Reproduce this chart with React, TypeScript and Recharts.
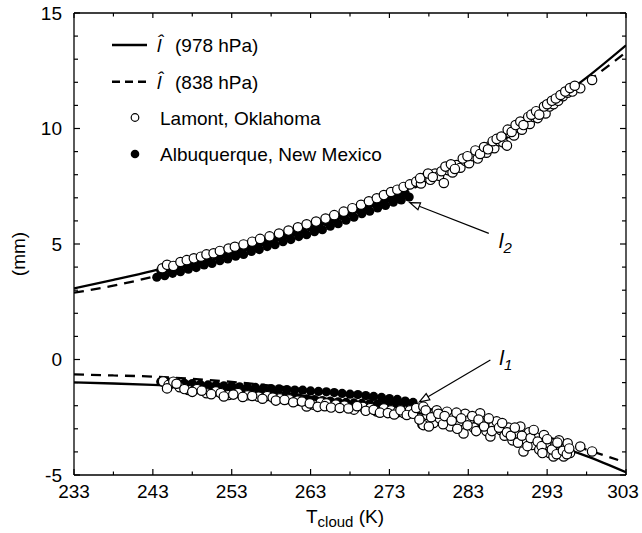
import { ComposedChart, Line, Scatter, XAxis, YAxis, ReferenceLine } from "recharts"

const FONT = '"Liberation Sans", Arial, Helvetica, sans-serif'
const INK = "#000"
const W = 642
const H = 533

// axis ticks (minor ones are unlabeled)
const X_TICKS = [233, 238, 243, 248, 253, 258, 263, 268, 273, 278, 283, 288, 293, 298, 303]
const X_LABELED = [233, 243, 253, 263, 273, 283, 293, 303]
const Y_TICKS = [-5, -4, -3, -2, -1, 0, 1, 2, 3, 4, 5, 6, 7, 8, 9, 10, 11, 12, 13, 14, 15]
const Y_LABELED = [-5, 0, 5, 10, 15]

// model curves l-hat, read every 5 K
const CURVE_T = [233, 238, 243, 248, 253, 258, 263, 268, 273, 278, 283, 288, 293, 298, 303]
const I2_978 = [3.08, 3.45, 3.84, 4.28, 4.75, 5.25, 5.8, 6.4, 7.05, 7.8, 8.7, 9.75, 10.95, 12.2, 13.6]
const I2_838 = [2.89, 3.2, 3.58, 4.05, 4.55, 5.1, 5.68, 6.3, 6.97, 7.72, 8.6, 9.62, 10.8, 12.0, 13.3]
const I1_978 = [-0.99, -1.04, -1.1, -1.18, -1.3, -1.44, -1.62, -1.84, -2.1, -2.4, -2.76, -3.16, -3.62, -4.18, -4.88]
const I1_838_T = [233, 238, 243, 248, 253, 258, 263, 268, 273, 278, 283, 288, 293, 298, 302]
const I1_838 = [-0.64, -0.69, -0.74, -0.84, -0.97, -1.13, -1.33, -1.56, -1.83, -2.14, -2.5, -2.9, -3.35, -3.9, -4.35]

// Albuquerque, New Mexico (filled)
const ALBQ_I2: [number, number][] = [
  [244, 3.85], [245, 3.94], [246, 4.05], [247, 4.12], [248, 4.2], [249, 4.31], [250, 4.39], [251, 4.5],
  [252, 4.58], [253, 4.69], [254, 4.77], [255, 4.9], [256, 4.98], [257, 5.1], [258, 5.18], [259, 5.31],
  [260, 5.4], [261, 5.53], [262, 5.62], [263, 5.74], [264, 5.83], [265, 5.96], [266, 6.07], [267, 6.22],
  [268, 6.36], [269, 6.5], [270, 6.61], [271, 6.76], [272, 6.86], [273, 6.99], [274, 7.09], [275, 7.2],
  [243.5, 3.56], [244.5, 3.63], [245.5, 3.73], [246.5, 3.8], [247.5, 3.91], [248.5, 3.98], [249.5, 4.09],
  [250.5, 4.16], [251.5, 4.28], [252.5, 4.35], [253.5, 4.47], [254.5, 4.55], [255.5, 4.68], [256.5, 4.76],
  [257.5, 4.89], [258.5, 4.97], [259.5, 5.1], [260.5, 5.19], [261.5, 5.32], [262.5, 5.4], [263.5, 5.53],
  [264.5, 5.62], [265.5, 5.77], [266.5, 5.88], [267.5, 6.03], [268.5, 6.16], [269.5, 6.31], [270.5, 6.42],
  [271.5, 6.56], [272.5, 6.67], [273.5, 6.81], [274.5, 6.91], [275.5, 7.03],
]
const ALBQ_I1: [number, number][] = [
  [244, -0.96], [245, -0.98], [246, -1.0], [247, -1.03], [248, -1.04], [249, -1.08], [250, -1.1], [251, -1.11],
  [252, -1.14], [253, -1.15], [254, -1.18], [255, -1.2], [256, -1.21], [257, -1.24], [258, -1.26], [259, -1.27],
  [260, -1.3], [261, -1.32], [262, -1.33], [263, -1.36], [264, -1.38], [265, -1.4], [266, -1.43], [267, -1.47],
  [268, -1.5], [269, -1.52], [270, -1.56], [271, -1.6], [272, -1.64], [273, -1.69], [274, -1.73], [275, -1.8],
  [276, -1.86],
  [244.5, -1.02], [245.5, -1.06], [246.5, -1.1], [247.5, -1.13], [248.5, -1.17], [249.5, -1.2], [250.5, -1.24],
  [251.5, -1.27], [252.5, -1.31], [253.5, -1.35], [254.5, -1.39], [255.5, -1.42], [256.5, -1.46], [257.5, -1.5],
  [258.5, -1.54], [259.5, -1.57], [260.5, -1.62], [261.5, -1.66], [262.5, -1.7], [263.5, -1.74], [264.5, -1.78],
  [265.5, -1.8], [266.5, -1.83], [267.5, -1.86], [268.5, -1.88], [269.5, -1.9], [270.5, -1.92], [271.5, -1.93],
  [272.5, -1.94], [273.5, -1.95], [274.5, -1.95], [275.5, -1.93],
  [277.1, -2.82], [279.5, -2.6], [284.1, -2.48],
]

// Lamont, Oklahoma (open)
const LAMONT_I2: [number, number][] = [
  [244.2, 3.95], [244.8, 4.1], [245.6, 4.05], [246.5, 4.22], [247.3, 4.3], [248.2, 4.38], [249.1, 4.45],
  [249.8, 4.55], [250.7, 4.6], [251.5, 4.7], [252.6, 4.8], [253.4, 4.88], [254.5, 4.98], [255.6, 5.1],
  [256.6, 5.22], [257.8, 5.33], [259.0, 5.45], [260.2, 5.58], [261.4, 5.72], [262.5, 5.85], [263.7, 5.97],
  [264.9, 6.1], [266.0, 6.25], [267.2, 6.4], [268.3, 6.55], [269.4, 6.7], [270.4, 6.85], [271.4, 6.98],
  [272.3, 7.12], [273.2, 7.25], [274.0, 7.35], [274.8, 7.47], [275.6, 7.58], [276.4, 7.7], [277.0, 7.62],
  [277.6, 7.9], [278.2, 7.78], [278.8, 8.05], [279.3, 7.95], [279.9, 7.64], [280.4, 8.2], [281.0, 8.1],
  [281.5, 8.42], [282.0, 8.3], [282.6, 8.6], [283.1, 8.5], [283.6, 8.8], [284.2, 8.7], [284.7, 9.0],
  [285.3, 8.95], [285.8, 9.25], [286.3, 9.15], [286.9, 9.45], [287.4, 9.4], [287.9, 9.26], [288.3, 9.8],
  [288.8, 9.7], [289.3, 10.05], [289.8, 9.95], [290.3, 10.3], [290.8, 10.2], [291.3, 10.5], [291.8, 10.45],
  [292.3, 10.75], [292.8, 10.65], [293.3, 10.95], [293.8, 11.05], [294.4, 11.2], [295.0, 11.4],
  [295.6, 11.55], [296.2, 11.6], [297.2, 11.74], [298.7, 12.1],
  [276.9, 7.85], [277.9, 8.05], [278.5, 7.9], [279.6, 8.15], [280.1, 8.35], [280.8, 8.45], [281.3, 8.25],
  [282.3, 8.7], [282.9, 8.8], [283.9, 9.05], [284.5, 8.9], [285.0, 9.2], [285.5, 9.1], [286.1, 9.45],
  [286.6, 9.55], [287.2, 9.65], [288.0, 9.95], [288.5, 9.85], [289.0, 10.15], [289.6, 10.3], [290.0, 10.15],
  [290.6, 10.5], [291.0, 10.6], [291.6, 10.75], [292.0, 10.6], [292.6, 10.95], [293.0, 11.05], [293.6, 11.2],
  [294.1, 11.3], [294.7, 11.45], [295.3, 11.6], [295.9, 11.75], [296.5, 11.85],
]
const LAMONT_I1: [number, number][] = [
  [244.3, -0.95], [245.0, -1.1], [245.6, -0.96], [246.4, -1.2], [247.5, -1.32], [248.6, -1.28], [249.8, -1.46],
  [251.0, -1.38], [252.6, -1.54], [253.8, -1.45], [255.0, -1.55], [256.4, -1.61], [257.5, -1.58], [259.1, -1.68],
  [260.3, -1.72], [261.4, -1.78], [262.5, -2.03], [263.4, -1.96], [264.3, -1.85], [265.0, -1.9], [266.2, -1.95],
  [267.3, -2.0], [268.5, -2.17], [269.6, -2.05], [270.6, -2.1], [271.4, -2.25], [272.3, -2.12], [273.2, -2.2],
  [274.0, -2.28], [274.8, -2.32], [275.6, -2.2],
  [244.8, -1.25], [246.0, -1.05], [247.0, -1.28], [248.0, -1.4], [249.2, -1.35], [250.4, -1.5], [251.6, -1.45],
  [252.0, -1.6], [253.2, -1.52], [254.4, -1.62], [255.6, -1.58], [256.9, -1.7], [258.2, -1.65], [258.6, -1.78],
  [259.7, -1.75], [260.8, -1.85], [261.9, -1.82], [262.9, -1.9], [263.9, -2.05], [264.8, -2.02], [265.6, -2.08],
  [266.7, -2.1], [267.8, -2.12], [268.9, -2.02], [270.0, -2.22], [271.0, -2.18], [271.8, -2.3], [272.8, -2.32],
  [273.6, -2.38], [274.4, -2.2], [275.2, -2.4], [276.0, -2.35],
  [276.4, -2.1], [277.3, -2.04], [277.3, -2.84], [277.8, -2.4], [278.6, -2.75], [279.0, -2.2], [279.4, -2.55],
  [280.3, -2.26], [280.7, -2.9], [281.2, -2.5], [281.8, -2.7], [282.4, -3.2], [282.6, -2.35], [283.2, -2.6],
  [283.7, -2.95], [284.5, -2.33], [284.8, -2.75], [285.3, -3.1], [285.8, -3.33], [286.2, -2.85], [286.6, -2.68],
  [287.1, -3.05], [287.6, -3.3], [288.1, -2.95], [288.6, -3.5], [289.0, -3.2], [289.6, -2.9], [290.0, -3.98],
  [290.2, -3.45], [290.7, -3.15], [291.1, -3.7], [291.5, -3.35], [292.0, -3.9], [292.6, -3.27], [292.9, -3.6],
  [293.3, -4.05], [293.8, -4.2], [294.0, -3.75], [294.5, -3.5], [294.8, -4.0], [295.1, -4.2], [295.4, -3.8],
  [295.6, -3.63], [295.9, -4.05], [297.2, -3.77], [298.7, -3.98],
  [276.8, -2.6], [277.6, -2.2], [278.0, -2.9], [278.3, -2.5], [279.2, -2.35], [279.8, -2.8], [280.0, -2.45],
  [280.9, -2.65], [281.5, -2.3], [281.6, -3.0], [282.1, -2.55], [282.9, -2.85], [283.5, -2.45], [284.0, -3.1],
  [284.3, -2.6], [285.0, -2.9], [285.6, -2.55], [286.0, -3.1], [286.9, -2.95], [287.3, -2.75], [287.9, -3.15],
  [288.4, -3.3], [288.9, -2.95], [289.3, -3.6], [289.8, -3.3], [290.5, -3.75], [290.9, -3.4], [291.3, -3.05],
  [291.8, -3.55], [292.3, -3.75], [292.4, -4.05], [293.0, -3.45], [293.6, -3.9], [294.2, -4.1], [294.3, -3.6],
  [295.0, -3.95], [295.5, -4.1], [295.8, -3.85],
]

const LEGEND_NAMES = ["(978 hPa)", "(838 hPa)", "Lamont, Oklahoma", "Albuquerque, New Mexico"]

const toPts = (arr: [number, number][]) => arr.map(([x, y]) => ({ x, y }))
const curve = (ts: number[], vs: number[]) => ts.map((x, i) => ({ x, y: vs[i] }))

function BottomTick({ x, y, payload }: any) {
  const major = X_LABELED.includes(payload.value)
  // keep the last label inside the picture
  const tx = Math.min(x, W - 19)
  return (
    <g>
      <line x1={x} x2={x} y1={y} y2={y - (major ? 6 : 3.5)} stroke={INK} strokeWidth={1.2} />
      {major && (
        <text x={tx} y={y + 23} textAnchor="middle" fontSize={19} fontFamily={FONT} fill={INK}>{payload.value}</text>
      )}
    </g>
  )
}

function TopTick({ x, y, payload }: any) {
  const major = X_LABELED.includes(payload.value)
  return <line x1={x} x2={x} y1={y} y2={y + (major ? 5 : 3.5)} stroke={INK} strokeWidth={1.2} />
}

function LeftTick({ x, y, payload }: any) {
  const major = Y_LABELED.includes(payload.value)
  return (
    <g>
      <line x1={x} x2={x + (major ? 6 : 4)} y1={y} y2={y} stroke={INK} strokeWidth={1.2} />
      {major && (
        <text x={x - 12} y={y + 6.5} textAnchor="end" fontSize={19} fontFamily={FONT} fill={INK}>{payload.value}</text>
      )}
    </g>
  )
}

function RightTick({ x, y, payload }: any) {
  const major = Y_LABELED.includes(payload.value)
  return <line x1={x} x2={x - (major ? 6 : 4)} y1={y} y2={y} stroke={INK} strokeWidth={1.2} />
}

function arrowShape(sub: string, dx: number, dy: number) {
  return (p: any) => {
    const { x1, y1, x2, y2 } = p
    const a = Math.atan2(y2 - y1, x2 - x1)
    const len = 10
    const hw = 3.6
    const bx = x2 - len * Math.cos(a)
    const by = y2 - len * Math.sin(a)
    const px = -Math.sin(a) * hw
    const py = Math.cos(a) * hw
    return (
      <g>
        <line x1={x1} y1={y1} x2={bx} y2={by} stroke={INK} strokeWidth={1.2} />
        <polygon points={`${x2},${y2} ${bx + px},${by + py} ${bx - px},${by - py}`} fill="#fff" stroke={INK} strokeWidth={1.2} />
        <text x={x1 + dx} y={y1 + dy} fontSize={21} fontStyle="italic" fontFamily={FONT} fill={INK}>
          l<tspan fontSize={15} dy={5}>{sub}</tspan>
        </text>
      </g>
    )
  }
}

function XTitle({ viewBox }: any) {
  const cx = viewBox.x + viewBox.width / 2 - 5
  const y = viewBox.y + 48
  return (
    <text x={cx} y={y} textAnchor="middle" fontSize={19} fontFamily={FONT} fill={INK}>
      T<tspan fontSize={15} dy={4}>cloud</tspan><tspan dy={-4}> (K)</tspan>
    </text>
  )
}

function YTitle({ viewBox }: any) {
  const x = viewBox.x + 25
  const y = viewBox.y + viewBox.height / 2 + 10
  return (
    <text x={x} y={y} transform={`rotate(-90 ${x} ${y})`} textAnchor="middle" fontSize={19} fontFamily={FONT} fill={INK}>
      (mm)
    </text>
  )
}

function LegendBox() {
  const rowY = [45, 81.7, 117.5, 154]
  return (
    <g fontFamily={FONT} fontSize={19} fill={INK}>
      <line x1={112} x2={147} y1={rowY[0]} y2={rowY[0]} stroke={INK} strokeWidth={2.4} />
      <text x={157} y={rowY[0] + 7} fontStyle="italic">l&#x302;</text>
      <text x={175} y={rowY[0] + 7}>{LEGEND_NAMES[0]}</text>
      <line x1={112} x2={147} y1={rowY[1]} y2={rowY[1]} stroke={INK} strokeWidth={2.4} strokeDasharray="8 5" />
      <text x={157} y={rowY[1] + 7} fontStyle="italic">l&#x302;</text>
      <text x={175} y={rowY[1] + 7}>{LEGEND_NAMES[1]}</text>
      <circle cx={135} cy={rowY[2]} r={3.8} fill="#fff" stroke={INK} strokeWidth={1.2} />
      <text x={160} y={rowY[2] + 7}>{LEGEND_NAMES[2]}</text>
      <circle cx={135} cy={rowY[3]} r={4.3} fill={INK} />
      <text x={160} y={rowY[3] + 7}>{LEGEND_NAMES[3]}</text>
    </g>
  )
}

const openDot = (p: any) => <circle cx={p.cx} cy={p.cy} r={4.7} fill="#fff" stroke={INK} strokeWidth={1.2} />
const filledDot = (p: any) => <circle cx={p.cx} cy={p.cy} r={4.6} fill={INK} />

export default function App() {
  return (
    <div style={{ position: "absolute", left: 0, top: 0, width: W, height: H, fontFamily: FONT }}>
      <ComposedChart width={W} height={H} margin={{ top: 8, right: 8, bottom: 0, left: 0 }}>
        <XAxis type="number" dataKey="x" domain={[233, 303]} ticks={X_TICKS} interval={0} allowDataOverflow
          tickSize={0} tickMargin={0} tickLine={false} tick={<BottomTick />} height={58}
          axisLine={{ stroke: INK, strokeWidth: 1.3 }} label={XTitle} />
        <XAxis xAxisId="top" orientation="top" type="number" dataKey="x" domain={[233, 303]} ticks={X_TICKS}
          interval={0} allowDataOverflow tickSize={0} tickMargin={0} tickLine={false} tick={<TopTick />} height={5}
          axisLine={{ stroke: INK, strokeWidth: 1.3 }} />
        <YAxis type="number" dataKey="y" domain={[-5, 15]} ticks={Y_TICKS} interval={0} allowDataOverflow
          tickSize={0} tickMargin={0} tickLine={false} tick={<LeftTick />} width={74}
          axisLine={{ stroke: INK, strokeWidth: 1.3 }} label={YTitle} />
        <YAxis yAxisId="right" orientation="right" type="number" dataKey="y" domain={[-5, 15]} ticks={Y_TICKS}
          interval={0} allowDataOverflow tickSize={0} tickMargin={0} tickLine={false} tick={<RightTick />} width={8}
          axisLine={{ stroke: INK, strokeWidth: 1.3 }} />

        <Line data={curve(CURVE_T, I2_978)} dataKey="y" type="monotone" stroke={INK} strokeWidth={2.3} dot={false} isAnimationActive={false} />
        <Line data={curve(CURVE_T, I2_838)} dataKey="y" type="monotone" stroke={INK} strokeWidth={2.3} strokeDasharray="10 7" dot={false} isAnimationActive={false} />
        <Line data={curve(CURVE_T, I1_978)} dataKey="y" type="monotone" stroke={INK} strokeWidth={2.3} dot={false} isAnimationActive={false} />
        <Line data={curve(I1_838_T, I1_838)} dataKey="y" type="monotone" stroke={INK} strokeWidth={2.3} strokeDasharray="10 7" dot={false} isAnimationActive={false} />

        <Scatter name="Albuquerque, New Mexico" data={toPts(ALBQ_I2)} shape={filledDot} isAnimationActive={false} />
        <Scatter name="Albuquerque, New Mexico" data={toPts(ALBQ_I1)} shape={filledDot} isAnimationActive={false} />
        <Scatter name="Lamont, Oklahoma" data={toPts(LAMONT_I2)} shape={openDot} isAnimationActive={false} />
        <Scatter name="Lamont, Oklahoma" data={toPts(LAMONT_I1)} shape={openDot} isAnimationActive={false} />

        <ReferenceLine segment={[{ x: 285.6, y: 5.46 }, { x: 275.6, y: 6.79 }]} shape={arrowShape("2", 10, 15)} />
        <ReferenceLine segment={[{ x: 285.8, y: -0.02 }, { x: 276.8, y: -1.83 }]} shape={arrowShape("1", 9, 5)} />

        <LegendBox />
      </ComposedChart>
    </div>
  )
}
